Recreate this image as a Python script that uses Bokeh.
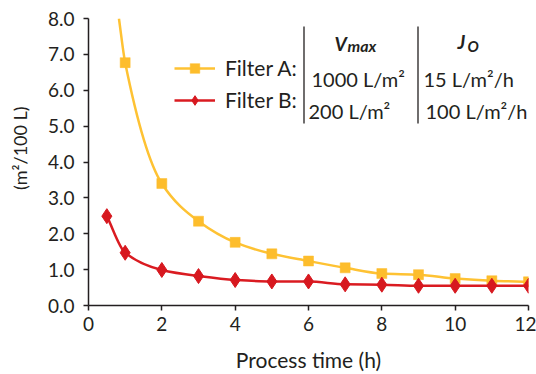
import math
from bokeh.plotting import figure
from bokeh.models import (FixedTicker, Label, Legend, LegendItem, Arrow, Range1d)
from bokeh.embed import file_html
from bokeh.resources import INLINE

# ---------------- data ----------------
time_a = [1, 2, 3, 4, 5, 6, 7, 8, 9, 10, 11, 12]
filter_a = [6.77, 3.40, 2.35, 1.76, 1.44, 1.24, 1.05, 0.89, 0.86, 0.75, 0.69, 0.66]
# where the fitted curve of Filter A leaves the top of the plot
curve_a_start_x = [0.83]
curve_a_start_y = [8.0]

time_b = [0.5, 1, 2, 3, 4, 5, 6, 7, 8, 9, 10, 11, 12]
filter_b = [2.49, 1.47, 0.99, 0.82, 0.71, 0.67, 0.67, 0.59, 0.58, 0.55, 0.55, 0.55, 0.55]

x_ticks = [0, 2, 4, 6, 8, 10, 12]
x_tick_labels = ["0", "2", "4", "6", "8", "10", "12"]
y_ticks = [0, 1, 2, 3, 4, 5, 6, 7, 8]
y_tick_labels = ["0.0", "1.0", "2.0", "3.0", "4.0", "5.0", "6.0", "7.0", "8.0"]

series_names = ["Filter A:", "Filter B:"]
vmax_values = ["1000 L/m\u00b2", "200 L/m\u00b2"]
j0_values = ["15 L/m\u00b2/h", "100 L/m\u00b2/h"]

x_label = "Process time (h)"
y_label = "(m\u00b2/100 L)"

# ---------------- styling ----------------
FONT = "Lato"
TXT = "#231F20"
YEL_M = "#FDBD2C"
YEL_L = "#FEC233"
RED_M = "#D7181F"
RED_L = "#DA1B21"


def smooth_segments(xs, ys):
    """Bezier control points of a monotone (PCHIP) curve through the points."""
    n = len(xs)
    h = [xs[i + 1] - xs[i] for i in range(n - 1)]
    d = [(ys[i + 1] - ys[i]) / h[i] for i in range(n - 1)]
    m = [0.0] * n
    m[0] = d[0]
    m[-1] = d[-1]
    for i in range(1, n - 1):
        if d[i - 1] * d[i] <= 0:
            m[i] = 0.0
        else:
            w1 = 2 * h[i] + h[i - 1]
            w2 = h[i] + 2 * h[i - 1]
            m[i] = (w1 + w2) / (w1 / d[i - 1] + w2 / d[i])
    seg = dict(x0=[], y0=[], x1=[], y1=[], cx0=[], cy0=[], cx1=[], cy1=[])
    for i in range(n - 1):
        seg["x0"].append(xs[i]); seg["y0"].append(ys[i])
        seg["x1"].append(xs[i + 1]); seg["y1"].append(ys[i + 1])
        seg["cx0"].append(xs[i] + h[i] / 3); seg["cy0"].append(ys[i] + m[i] * h[i] / 3)
        seg["cx1"].append(xs[i + 1] - h[i] / 3); seg["cy1"].append(ys[i + 1] - m[i + 1] * h[i] / 3)
    return seg


W, H = 536, 374
L, R, T, B = 88, 8, 18, 68

p = figure(width=W, height=H, output_backend="svg", toolbar_location=None,
           x_range=Range1d(0, 12), y_range=Range1d(0, 8),
           min_border_left=L, min_border_right=R, min_border_top=T, min_border_bottom=B)
p.outline_line_color = None
p.xgrid.visible = False
p.ygrid.visible = False
p.background_fill_color = "white"
p.border_fill_color = "white"

for ax in (p.xaxis[0], p.yaxis[0]):
    ax.axis_line_color = TXT
    ax.axis_line_width = 1.5
    ax.major_tick_line_color = TXT
    ax.major_tick_line_width = 1.5
    ax.major_tick_in = 0
    ax.major_tick_out = 5
    ax.minor_tick_line_color = None
    ax.major_label_text_font = FONT
    ax.major_label_text_font_size = "19px"
    ax.major_label_text_color = TXT

p.xaxis.ticker = FixedTicker(ticks=x_ticks)
p.xaxis.major_label_overrides = {t: s for t, s in zip(x_ticks, x_tick_labels)}
p.yaxis.ticker = FixedTicker(ticks=y_ticks)
p.yaxis.major_label_overrides = {t: s for t, s in zip(y_ticks, y_tick_labels)}
p.xaxis.major_label_standoff = 6
p.yaxis.major_label_standoff = 9

p.xaxis.axis_label = x_label
p.xaxis.axis_label_text_font = FONT
p.xaxis.axis_label_text_font_size = "21px"
p.xaxis.axis_label_text_font_style = "normal"
p.xaxis.axis_label_text_color = TXT
p.xaxis.axis_label_standoff = 13

# y label: leading no-break spaces move it up a little, as in the reference
p.yaxis.axis_label = "\u00a0" * 6 + y_label
p.yaxis.axis_label_text_font = FONT
p.yaxis.axis_label_text_font_size = "18px"
p.yaxis.axis_label_text_font_style = "normal"
p.yaxis.axis_label_text_color = TXT
p.yaxis.axis_label_standoff = 14

# curves
seg_a = smooth_segments(curve_a_start_x + time_a, curve_a_start_y + filter_a)
seg_b = smooth_segments(time_b, filter_b)
ra_line = p.bezier(source=seg_a, x0="x0", y0="y0", x1="x1", y1="y1",
                   cx0="cx0", cy0="cy0", cx1="cx1", cy1="cy1",
                   line_color=YEL_L, line_width=2.5)
ra_pts = p.scatter(time_a, filter_a, marker="square", size=10,
                   fill_color=YEL_M, line_color=YEL_M, line_width=0.5)
rb_line = p.bezier(source=seg_b, x0="x0", y0="y0", x1="x1", y1="y1",
                   cx0="cx0", cy0="cy0", cx1="cx1", cy1="cy1",
                   line_color=RED_L, line_width=2.5)
rb_pts = p.scatter(time_b, filter_b, marker="diamond", size=15,
                   fill_color=RED_M, line_color=RED_M, line_width=1)

legend = Legend(items=[LegendItem(label=series_names[0], renderers=[ra_line, ra_pts]),
                       LegendItem(label=series_names[1], renderers=[rb_line, rb_pts])],
                location=(86, 193), orientation="vertical",
                border_line_alpha=0, background_fill_alpha=0,
                padding=0, margin=0, spacing=7,
                glyph_width=41, glyph_height=24, label_height=24, label_standoff=10,
                label_text_font=FONT, label_text_font_size="21px", label_text_color=TXT)
p.add_layout(legend)

# table of parameters
def fx(px):
    return px - L

def fy(py):
    return (H - B) - py

row_base = [79, 111]
for i in range(2):
    p.add_layout(Label(x=fx(311 if i == 0 else 308), y=fy(row_base[i]), x_units="screen", y_units="screen",
                       text=vmax_values[i], text_baseline="alphabetic", text_align="left",
                       text_font=FONT, text_font_size="20px", text_color=TXT))
    p.add_layout(Label(x=fx(423 if i == 0 else 425), y=fy(row_base[i]), x_units="screen", y_units="screen",
                       text=j0_values[i], text_baseline="alphabetic", text_align="left",
                       text_font=FONT, text_font_size="20px", text_color=TXT))

hdr = dict(x_units="screen", y_units="screen", text_baseline="alphabetic", text_align="left",
           text_font=FONT, text_font_style="bold italic", text_color=TXT)
p.add_layout(Label(x=fx(334), y=fy(44), text="V", text_font_size="19px", **hdr))
p.add_layout(Label(x=fx(347), y=fy(46), text="max", text_font_size="16px", **hdr))
p.add_layout(Label(x=fx(457), y=fy(42), text="J", text_font_size="19px", **hdr))
p.add_layout(Label(x=fx(467), y=fy(46), text="O", text_font_size="15px", **hdr))

for sx in (303.5, 417.5):
    p.add_layout(Arrow(end=None, x_start=fx(sx), y_start=fy(27), x_end=fx(sx), y_end=fy(124),
                       start_units="screen", end_units="screen",
                       line_color=TXT, line_width=1.3))

open("out.html", "w").write(file_html(p, INLINE))
